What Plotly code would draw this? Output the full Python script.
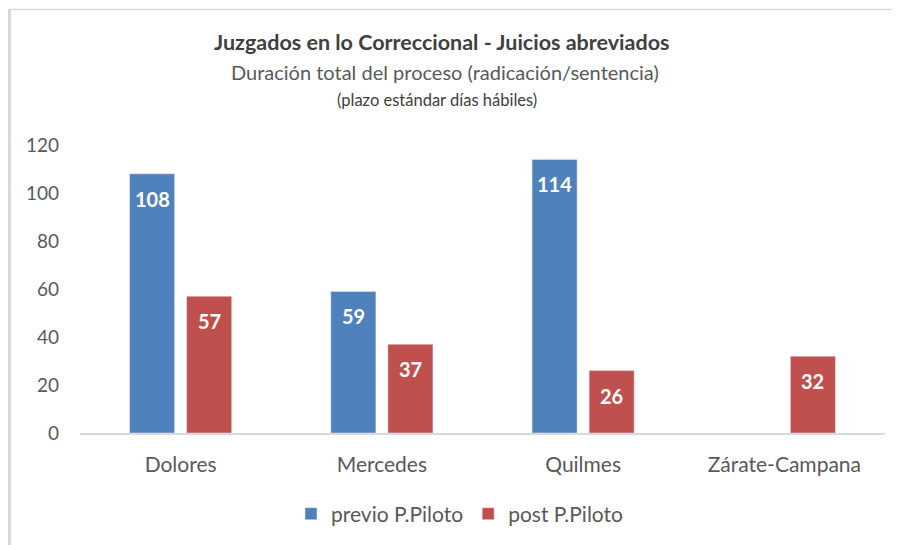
import plotly.graph_objects as go

categories = ["Dolores", "Mercedes", "Quilmes", "Zárate-Campana"]
previo = [108, 59, 114, None]
post = [57, 37, 26, 32]
series_names = ["previo P.Piloto", "post P.Piloto"]
y_ticks = [0, 20, 40, 60, 80, 100, 120]

BLUE = "#4F81BD"
RED = "#C0504D"
GRAY = "#595959"
DARK = "#404040"
FONT = "Lato"

OFF = 8  # page body margin
W, H = 900 - OFF, 545 - OFF
# plot area in page pixels: x 80..885, y 145..433
ML = 80 - OFF
MR = W - (885 - OFF)
MT = 145 - OFF
MB = H - (433 - OFF)
PW = W - ML - MR
PH = H - MT - MB

def px_x(p):
    return (p - OFF - ML) / PW

def px_y(p):
    return (H - MB - (p - OFF)) / PH

fig = go.Figure()
fig.add_trace(go.Bar(x=categories, y=previo, name=series_names[0], marker_color=BLUE))
fig.add_trace(go.Bar(x=categories, y=post, name=series_names[1], marker_color=RED))

annotations = []
for vals, shift in ((previo, -28.5), (post, 28.5)):
    for c, v in zip(categories, vals):
        if v is None:
            continue
        annotations.append(dict(x=c, y=v, xref="x", yref="y", text=str(v), showarrow=False,
                                xshift=shift, yshift=-25,
                                font=dict(family=FONT, size=20, color="white", weight="bold")))

annotations += [
    dict(x=px_x(441), y=px_y(42), xref="paper", yref="paper", showarrow=False,
         text="<b>Juzgados en lo Correccional - Juicios abreviados</b>",
         font=dict(family=FONT, size=21.5, color=DARK), xanchor="center", yanchor="middle"),
    dict(x=px_x(445), y=px_y(72), xref="paper", yref="paper", showarrow=False,
         text="Duración total del proceso (radicación/sentencia)",
         font=dict(family=FONT, size=20, color=GRAY), xanchor="center", yanchor="middle"),
    dict(x=px_x(437), y=px_y(100), xref="paper", yref="paper", showarrow=False,
         text="(plazo estándar días hábiles)",
         font=dict(family=FONT, size=16.5, color=DARK), xanchor="center", yanchor="middle"),
]

shapes = [
    dict(type="line", xref="paper", yref="paper", x0=px_x(8), x1=px_x(900), y0=px_y(9.5), y1=px_y(9.5),
         line=dict(color="#D9D9D9", width=1.5)),
    dict(type="line", xref="paper", yref="paper", x0=px_x(9.5), x1=px_x(9.5), y0=px_y(9), y1=px_y(545),
         line=dict(color="#D9D9D9", width=3)),
]

fig.update_layout(
    width=W, height=H,
    margin=dict(l=ML, r=MR, t=MT, b=MB, autoexpand=False),
    paper_bgcolor="white", plot_bgcolor="white",
    barmode="group", bargap=0.433, bargroupgap=0.21,
    font=dict(family=FONT, color=GRAY),
    annotations=annotations,
    shapes=shapes,
    legend=dict(orientation="h", x=px_x(460), xanchor="center", y=px_y(514), yanchor="middle",
                font=dict(family=FONT, size=21, color=GRAY), itemwidth=30, traceorder="normal"),
    xaxis=dict(showline=True, linecolor="#D9D9D9", linewidth=2, showgrid=False, ticks="",
               tickfont=dict(family=FONT, size=21, color=GRAY), ticklabelstandoff=12),
    yaxis=dict(range=[0, 120], tickvals=y_ticks, showgrid=False, zeroline=False, showline=False,
               ticks="", tickfont=dict(family=FONT, size=19, color=GRAY), ticklabelstandoff=20),
    showlegend=True,
)

fig.write_html("out.html")
